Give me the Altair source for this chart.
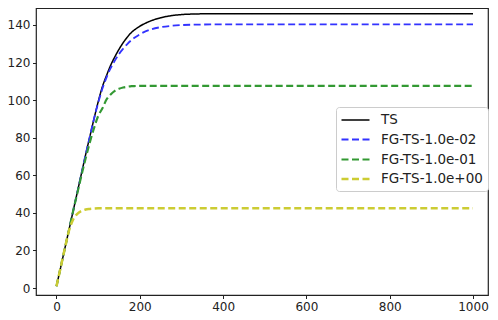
import altair as alt
import pandas as pd

steps = [0, 10, 20, 30, 40, 50, 60, 70, 80, 90, 100, 110, 120, 130, 140, 150,
         160, 170, 180, 190, 200, 225, 250, 275, 300, 350, 400, 500, 600, 700,
         800, 900, 1000]

series_names = ["TS", "FG-TS-1.0e-02", "FG-TS-1.0e-01", "FG-TS-1.0e+00"]

ts = [1, 11, 21, 31, 41, 51, 61, 71, 80.5, 90, 99, 107, 113, 118.5, 123, 127,
      130.5, 133.5, 136, 137.8, 139.3, 142, 143.8, 144.9, 145.5, 145.9, 146,
      146, 146, 146, 146, 146, 146]
fg_1e02 = [1, 11, 21, 31, 41, 51, 61, 71, 80.5, 90, 98.5, 106, 112, 117, 121,
           124.5, 127.3, 129.8, 131.9, 133.6, 135, 137.5, 138.8, 139.5, 139.9,
           140.2, 140.3, 140.3, 140.3, 140.3, 140.3, 140.3, 140.3]
fg_1e01 = [1, 11, 21, 31, 41, 50.5, 60, 69, 77.5, 85, 91.5, 95.5, 100.3, 103,
           104.9, 106, 106.7, 107.1, 107.4, 107.5, 107.6, 107.6, 107.6, 107.6,
           107.6, 107.6, 107.6, 107.6, 107.6, 107.6, 107.6, 107.6, 107.6]
fg_1e00 = [1, 11, 21, 30.5, 36.5, 39.5, 41, 41.8, 42.1, 42.3, 42.4, 42.4, 42.4,
           42.4, 42.4, 42.4, 42.4, 42.4, 42.4, 42.4, 42.4, 42.4, 42.4, 42.4,
           42.4, 42.4, 42.4, 42.4, 42.4, 42.4, 42.4, 42.4, 42.4]

x_ticks = [0, 200, 400, 600, 800, 1000]
y_ticks = [0, 20, 40, 60, 80, 100, 120, 140]

colors = ["#000000", "#3333ff", "#339933", "#cccc33"]
dashes = [[1, 0], [7, 3.5], [7, 3.5], [7, 3.5]]
widths = [1.5, 2.5, 2.5, 2]

rows = []
for name, vals in zip(series_names, [ts, fg_1e02, fg_1e01, fg_1e00]):
    for s, v in zip(steps, vals):
        rows.append({"step": s, "value": v, "series": name})
df = pd.DataFrame(rows)

ax_common = dict(
    grid=False, labelFont="DejaVu Sans", labelFontSize=12, labelColor="#222222",
    tickColor="#222222", tickSize=3.5, labelPadding=2.5, format="d",
    domain=False, title=None,
)

base = alt.Chart(df).mark_line(interpolate="monotone").encode(
    x=alt.X("step:Q", scale=alt.Scale(domain=[-49.2, 1036], nice=False, zero=False),
            axis=alt.Axis(values=x_ticks, **ax_common)),
    y=alt.Y("value:Q", scale=alt.Scale(domain=[-3.7, 149.0], nice=False, zero=False),
            axis=alt.Axis(values=y_ticks, **ax_common)),
    color=alt.Color("series:N", scale=alt.Scale(domain=series_names, range=colors),
                    legend=alt.Legend(title=None)),
    strokeDash=alt.StrokeDash("series:N", scale=alt.Scale(domain=series_names, range=dashes),
                              legend=alt.Legend(title=None)),
    strokeWidth=alt.StrokeWidth("series:N", scale=alt.Scale(domain=series_names, range=widths),
                                legend=alt.Legend(title=None)),
)

layers = [base.transform_filter(alt.datum.series == n) for n in series_names]

chart = alt.layer(*layers).properties(
    width=452, height=287,
    autosize=alt.AutoSizeParams(type="none"),
    padding={"left": 28, "top": 0, "right": 2, "bottom": 17},
).configure_view(
    stroke="#222222", strokeWidth=1.2
).configure_legend(
    orient="none", legendX=300, legendY=99,
    symbolType="M-2,0H2", symbolSize=196, symbolOffset=6,
    labelFont="DejaVu Sans", labelFontSize=13.5,
    labelColor="#222222", labelOffset=17, padding=5, rowPadding=4.5,
    strokeColor="#cccccc", fillColor="white", cornerRadius=3,
)

chart.save("out.html", embed_options={"renderer": "svg", "actions": False})
